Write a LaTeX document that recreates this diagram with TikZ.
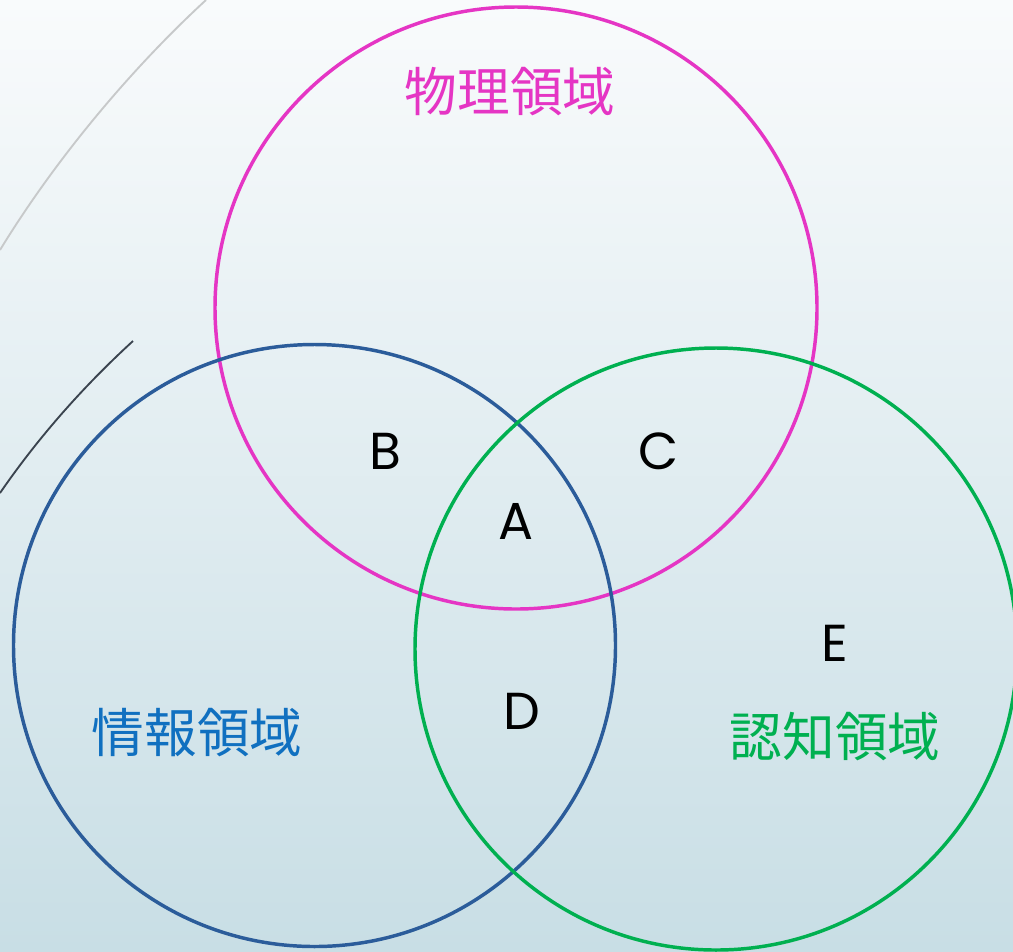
\documentclass[tikz,border=0pt]{standalone}
\usepackage{fontspec}
\newfontfamily\cjk{Noto Sans CJK JP}
\newfontfamily\geo{Poppins}
\definecolor{pinkc}{HTML}{E535C4}
\definecolor{bluec}{HTML}{2B5C9A}
\definecolor{bluet}{HTML}{1070C0}
\definecolor{greenc}{HTML}{00B050}
\definecolor{bgtop}{HTML}{F9FBFC}
\definecolor{bgbot}{HTML}{C8DEE5}
\tikzset{
  venn/.style={circle, draw=#1, line width=2.6pt, minimum size=451.5pt, inner sep=0pt},
  domain/.style={font=\cjk\fontsize{39.5}{44}\selectfont, text=#1, inner sep=0pt},
  region/.style={font=\geo\fontsize{39}{44}\selectfont, text=black, inner sep=0pt}
}
\begin{document}
\begin{tikzpicture}[x=0.75pt, y=-0.75pt]
\shade[top color=bgtop, bottom color=bgbot] (0,0) rectangle (1013,951);
\useasboundingbox (0,0) rectangle (1013,951);
% decorative arcs
\coordinate (g1) at (206,0);
\coordinate (g2) at (0,250);
\draw[color=black!20!bgtop, line width=1.4pt] (g1) .. controls (130,70) and (55,160) .. (g2);
\coordinate (d1) at (133,341);
\coordinate (d2) at (0,493);
\draw[color=black!70!bluec!60!gray, line width=1.4pt] (d1) .. controls (85,385) and (40,435) .. (d2);
% circles
\node[venn=pinkc] (phys) at (516,308) {};
\node[venn=bluec] (info) at (314.5,645.5) {};
\node[venn=greenc] (cog) at (716,649) {};
% domain labels
\node[domain=pinkc] (tphys) at (510,92) {物理領域};
\node[domain=bluet] (tinfo) at (197,733) {情報領域};
\node[domain=greenc] (tcog) at (835,737) {認知領域};
% region labels
\node[region] (A) at (516,521) {A};
\node[region] (B) at (385,451) {B};
\node[region] (C) at (659,451) {C};
\node[region] (D) at (522,711) {D};
\node[region] (E) at (835,643) {E};
\end{tikzpicture}
\end{document}
